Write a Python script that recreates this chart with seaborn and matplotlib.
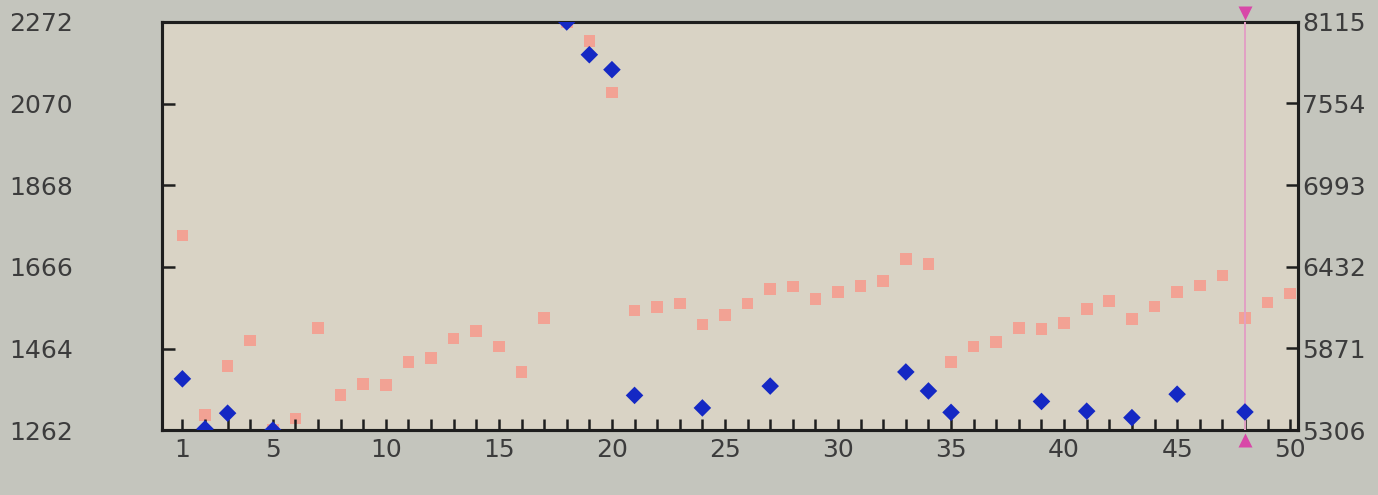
import numpy as np
import pandas as pd
import matplotlib
matplotlib.use("Agg")
import matplotlib.pyplot as plt
import matplotlib.transforms as mtransforms
import seaborn as sns

# Sample index (1..50) and the two measured series
index = list(range(1, 51))

# Right-axis series (salmon squares), one value per sample
pink_values = [6646, 5410, 5749, 5924, 5306, 5385, 6009, 5547, 5622, 5617,
               5773, 5803, 5938, 5989, 5882, 5706, 6078, 8115, 7985, 7629,
               6130, 6152, 6177, 6034, 6098, 6177, 6277, 6294, 6208, 6258,
               6297, 6332, 6483, 6450, 5774, 5882, 5913, 6008, 6003, 6044,
               6138, 6193, 6070, 6157, 6255, 6302, 6370, 6079, 6185, 6247]

# Left-axis series (blue diamonds), only recorded at some samples
blue_index = [1, 2, 3, 5, 18, 19, 20, 21, 24, 27, 33, 34, 35, 39, 41, 43, 45, 48]
blue_values = [1389, 1265, 1304, 1262, 2272, 2191, 2154, 1348, 1317, 1371,
               1406, 1359, 1306, 1333, 1309, 1293, 1351, 1307]

left_ticks = [1262, 1464, 1666, 1868, 2070, 2272]
right_ticks = [5306, 5871, 6432, 6993, 7554, 8115]
x_label_at = [1, 5, 10, 15, 20, 25, 30, 35, 40, 45, 50]
cursor_x = 48

pink_df = pd.DataFrame({"idx": index, "value": pink_values})
blue_df = pd.DataFrame({"idx": blue_index, "value": blue_values})

sns.set_theme(style="white")
plt.rcParams["font.family"] = ["DejaVu Sans"]

text_col = "#3c3c3c"
frame_col = "#1e1e1e"

fig = plt.figure(figsize=(13.78, 4.95), dpi=100, facecolor="#c4c5bd")
ax = fig.add_axes([0.1176, 0.131, 0.8244, 0.8246])
ax2 = ax.twinx()

# salmon squares on the right scale, drawn underneath the blue diamonds
ax2.set_facecolor("#d9d3c5")
ax2.patch.set_visible(True)
ax.set_zorder(ax2.get_zorder() + 1)
ax.patch.set_visible(False)

sns.scatterplot(data=pink_df, x="idx", y="value", ax=ax2, marker="s", s=70,
                color="#f2a294", edgecolor="none", linewidth=0, legend=False)
sns.scatterplot(data=blue_df, x="idx", y="value", ax=ax, marker="D", s=80,
                color="#1428c4", edgecolor="none", linewidth=0, legend=False,
                zorder=5)

# vertical cursor line with its two end markers
ax.axvline(cursor_x, color="#e2a0c4", lw=1.4, zorder=3)
trans = mtransforms.blended_transform_factory(ax.transData, ax.transAxes)
ax.plot([cursor_x], [1.022], marker="v", ms=10, color="#d848a8", mec="none",
        transform=trans, clip_on=False, zorder=6)
ax.plot([cursor_x], [-0.024], marker="^", ms=10, color="#d848a8", mec="none",
        transform=trans, clip_on=False, zorder=6)

ax.set_xlim(0.1, 50.35)
ax.set_ylim(left_ticks[0], left_ticks[-1])
ax2.set_ylim(right_ticks[0], right_ticks[-1])

ax.set_xticks(index)
ax.set_xticklabels([str(i) if i in x_label_at else "" for i in index])
ax.set_yticks(left_ticks)
ax.set_yticklabels([str(v) for v in left_ticks])
ax2.set_yticks(right_ticks)
ax2.set_yticklabels([str(v) for v in right_ticks])

for a in (ax, ax2):
    a.set_xlabel("")
    a.set_ylabel("")
    a.grid(False)
    for sp in a.spines.values():
        sp.set_color(frame_col)
        sp.set_linewidth(2.2)

ax.tick_params(axis="x", direction="in", length=8, width=1.8, color=frame_col,
               labelsize=18, labelcolor=text_col, pad=6, bottom=True)
ax.tick_params(axis="y", direction="in", length=9, width=1.8, color=frame_col,
               labelsize=18, labelcolor=text_col, pad=64, left=True)
ax2.tick_params(axis="y", direction="in", length=9, width=1.8, color=frame_col,
                labelsize=18, labelcolor=text_col, pad=3, right=True)

fig.savefig("out.png", dpi=100, facecolor=fig.get_facecolor())
